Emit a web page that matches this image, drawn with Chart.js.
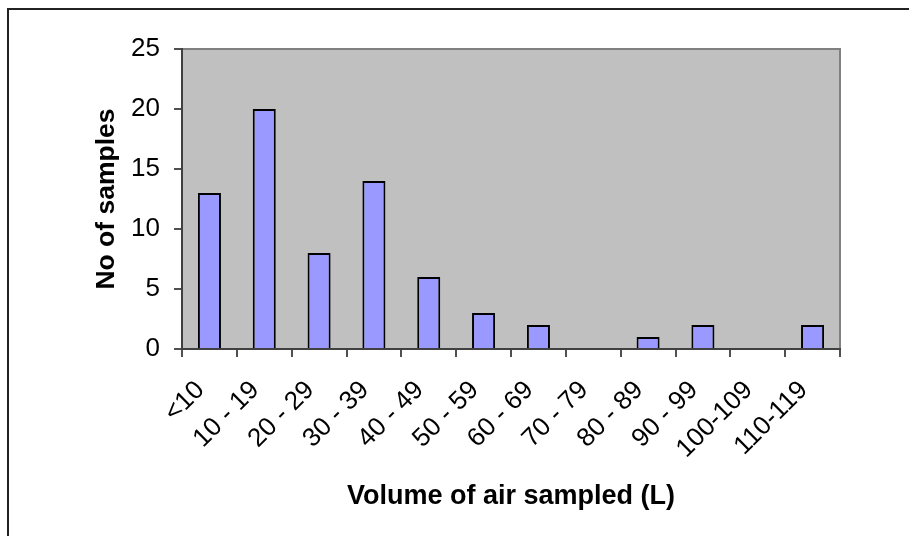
<!DOCTYPE html>
<html>
<head>
<meta charset="utf-8">
<title>Volume of air sampled</title>
<script src="https://cdn.jsdelivr.net/npm/chart.js@4/dist/chart.umd.min.js"></script>
<style>
  html, body { margin: 0; padding: 0; background: #fff; }
  #wrap { width: 909px; height: 536px; position: relative; }
</style>
</head>
<body>
<div id="wrap"><canvas id="airChart"></canvas></div>
<script>
// data
var categories = ['<10', '10 - 19', '20 - 29', '30 - 39', '40 - 49', '50 - 59',
                  '60 - 69', '70 - 79', '80 - 89', '90 - 99', '100-109', '110-119'];
var sampleCounts = [13, 20, 8, 14, 6, 3, 2, 0, 1, 2, 0, 2];
var yTicks = [0, 5, 10, 15, 20, 25];

var fontFamily = "'Liberation Sans', Arial, sans-serif";

// grey plot area + the outer frame of the picture
var plotFrame = {
  id: 'plotFrame',
  beforeDraw: function (chart) {
    var ctx = chart.ctx;
    var a = chart.chartArea;
    ctx.save();
    ctx.fillStyle = '#ffffff';
    ctx.fillRect(0, 0, chart.width, chart.height);

    ctx.strokeStyle = '#222222';
    ctx.lineWidth = 2;
    ctx.beginPath();
    ctx.moveTo(8, chart.height);
    ctx.lineTo(8, 9);
    ctx.lineTo(chart.width, 9);
    ctx.stroke();

    ctx.fillStyle = '#c0c0c0';
    ctx.fillRect(a.left, a.top, a.right - a.left, a.bottom - a.top);
    ctx.strokeStyle = '#808080';
    ctx.lineWidth = 2;
    ctx.strokeRect(a.left, a.top, a.right - a.left, a.bottom - a.top);
    ctx.restore();
  }
};

var ctx = document.getElementById('airChart').getContext('2d');

var chart = new Chart(ctx, {
  type: 'bar',
  data: {
    labels: categories,
    datasets: [{
      data: sampleCounts,
      backgroundColor: '#9999ff',
      borderColor: '#000000',
      borderWidth: 2,
      barPercentage: 0.42,
      categoryPercentage: 1.0
    }]
  },
  options: {
    responsive: true,
    maintainAspectRatio: false,
    devicePixelRatio: 1,
    animation: false,
    layout: {
      padding: { top: 49, right: 69, left: 0, bottom: 0 }
    },
    plugins: {
      legend: { display: false },
      tooltip: { enabled: false }
    },
    scales: {
      x: {
        grid: {
          offset: true,
          drawOnChartArea: false,
          drawTicks: true,
          tickLength: 8,
          color: '#505050',
          lineWidth: 2
        },
        border: { color: '#404040', width: 2 },
        ticks: {
          autoSkip: false,
          maxRotation: 45,
          minRotation: 45,
          padding: 18,
          labelOffset: -9,
          color: '#000',
          font: { family: fontFamily, size: 26 }
        },
        title: {
          display: true,
          text: 'Volume of air sampled (L)',
          color: '#000',
          font: { family: fontFamily, size: 27, weight: 'bold', lineHeight: 1.2 },
          padding: { top: 0, bottom: 23 }
        },
        afterFit: function (scale) { scale.height = 187; }
      },
      y: {
        min: yTicks[0],
        max: yTicks[yTicks.length - 1],
        grid: {
          drawOnChartArea: false,
          drawTicks: true,
          tickLength: 8,
          color: '#505050',
          lineWidth: 2
        },
        border: { color: '#404040', width: 2 },
        afterBuildTicks: function (scale) {
          scale.ticks = yTicks.map(function (v) { return { value: v }; });
        },
        ticks: {
          padding: 14,
          color: '#000',
          font: { family: fontFamily, size: 26 }
        },
        title: {
          display: true,
          text: 'No of samples',
          color: '#000',
          font: { family: fontFamily, size: 26.5, weight: 'bold', lineHeight: 1.2 },
          padding: { top: 91, bottom: 0 }
        },
        afterFit: function (scale) { scale.width = 182; }
      }
    }
  },
  plugins: [plotFrame]
});
</script>
</body>
</html>
